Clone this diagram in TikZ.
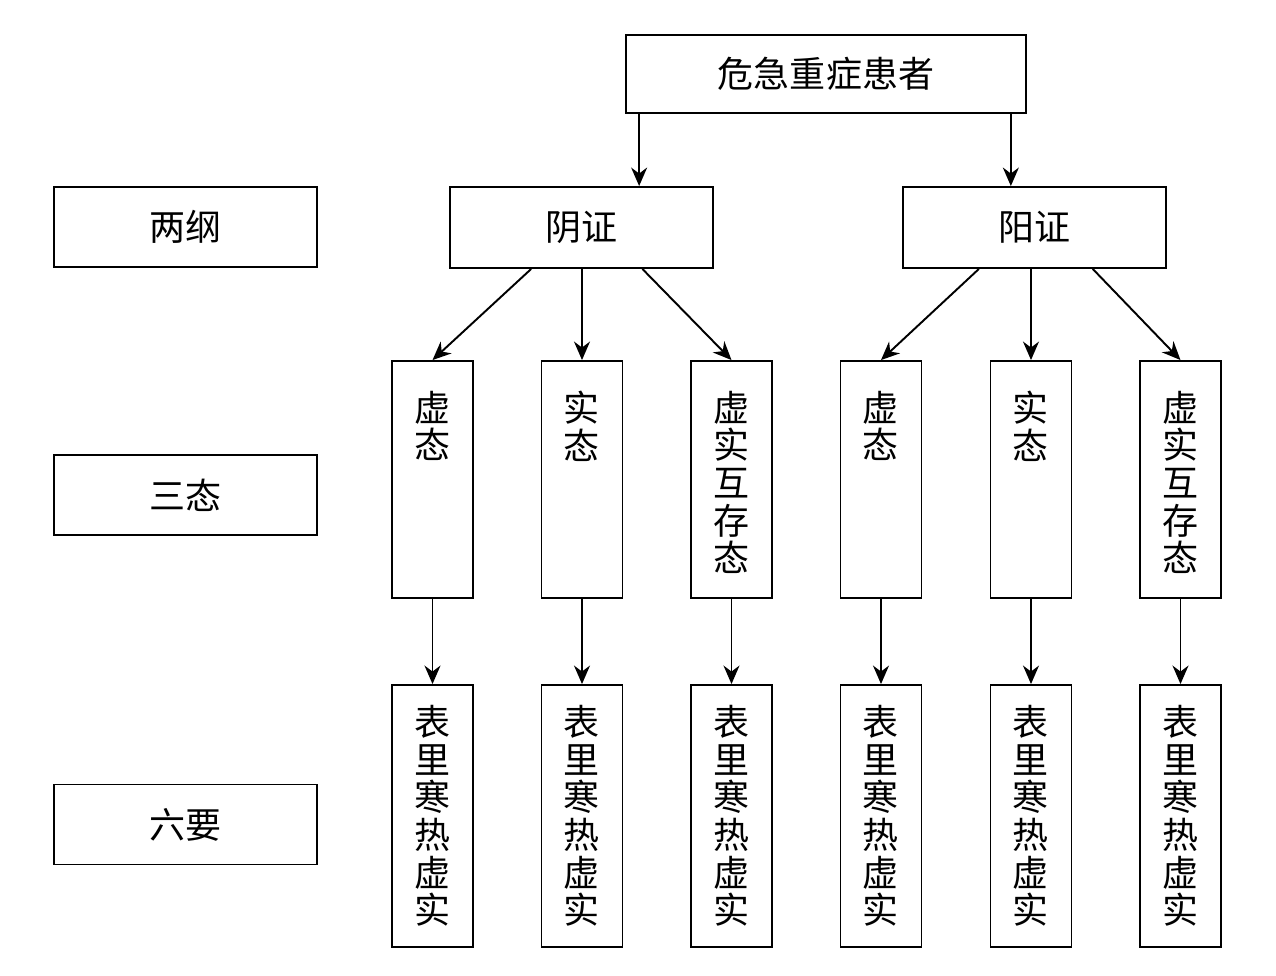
\documentclass[tikz,border=0pt]{standalone}
\usepackage{fontspec}
\newfontfamily\cjk{Noto Sans CJK SC}
\usetikzlibrary{arrows.meta,calc}

\newcommand{\topcol}[1]{\parbox[c][4.74cm][t]{1cm}{\centering\vspace*{0.6cm}#1}}

\begin{document}
\begin{tikzpicture}[x=0.02cm, y=-0.02cm,
    every node/.style={font=\cjk\fontsize{20.5}{21.4}\selectfont},
    box/.style={draw, line width=1.1pt, inner sep=0pt, align=center},
    arr/.style={-{Stealth[length=0.37cm, width=0.32cm]}, line width=1.1pt}]
    \useasboundingbox (0,0) rectangle (1276,976);

    % top and the two sides
    \node[box, minimum width=8cm, minimum height=1.56cm] (top) at (826,74) {危急重症患者};
    \node[box, minimum width=5.26cm, minimum height=1.62cm] (yin) at (581.5,227.5) {阴证};
    \node[box, minimum width=5.26cm, minimum height=1.62cm] (yang) at (1034.5,227.5) {阳证};

    % labels on the left
    \node[box, minimum width=5.26cm, minimum height=1.6cm] (gang) at (185.5,227) {两纲};
    \node[box, minimum width=5.26cm, minimum height=1.6cm] (tai) at (185.5,495) {三态};
    \node[box, minimum width=5.26cm, minimum height=1.6cm] (yao) at (185.5,824.5) {六要};

    % three states
    \node[box, minimum width=1.62cm] (s1) at (432.5,479.5) {\topcol{虚\\态}};
    \node[box, minimum width=1.62cm] (s2) at (582,479.5) {\topcol{实\\态}};
    \node[box, minimum width=1.62cm] (s3) at (731.5,479.5) {\topcol{虚\\实\\互\\存\\态}};
    \node[box, minimum width=1.62cm] (s4) at (881,479.5) {\topcol{虚\\态}};
    \node[box, minimum width=1.62cm] (s5) at (1031,479.5) {\topcol{实\\态}};
    \node[box, minimum width=1.62cm] (s6) at (1180.5,479.5) {\topcol{虚\\实\\互\\存\\态}};

    % six essentials
    \node[box, minimum width=1.62cm, minimum height=5.24cm] (e1) at (432.5,816) {表\\里\\寒\\热\\虚\\实};
    \node[box, minimum width=1.62cm, minimum height=5.24cm] (e2) at (582,816) {表\\里\\寒\\热\\虚\\实};
    \node[box, minimum width=1.62cm, minimum height=5.24cm] (e3) at (731.5,816) {表\\里\\寒\\热\\虚\\实};
    \node[box, minimum width=1.62cm, minimum height=5.24cm] (e4) at (881,816) {表\\里\\寒\\热\\虚\\实};
    \node[box, minimum width=1.62cm, minimum height=5.24cm] (e5) at (1031,816) {表\\里\\寒\\热\\虚\\实};
    \node[box, minimum width=1.62cm, minimum height=5.24cm] (e6) at (1180.5,816) {表\\里\\寒\\热\\虚\\实};

    \coordinate (tl) at ($(top.south west)!0.035!(top.south east)$);
    \coordinate (tr) at ($(top.south west)!0.96!(top.south east)$);
    \draw[arr] (tl) -- (tl |- yin.north);
    \draw[arr] (tr) -- (tr |- yang.north);

    \draw[arr] ($(yin.south west)!0.31!(yin.south east)$) -- (s1.north);
    \draw[arr] (yin.south -| s2) -- (s2.north);
    \draw[arr] ($(yin.south west)!0.73!(yin.south east)$) -- (s3.north);
    \draw[arr] ($(yang.south west)!0.29!(yang.south east)$) -- (s4.north);
    \draw[arr] (yang.south -| s5) -- (s5.north);
    \draw[arr] ($(yang.south west)!0.72!(yang.south east)$) -- (s6.north);

    \draw[arr] (s1) -- (e1);
    \draw[arr] (s2) -- (e2);
    \draw[arr] (s3) -- (e3);
    \draw[arr] (s4) -- (e4);
    \draw[arr] (s5) -- (e5);
    \draw[arr] (s6) -- (e6);
\end{tikzpicture}
\end{document}
